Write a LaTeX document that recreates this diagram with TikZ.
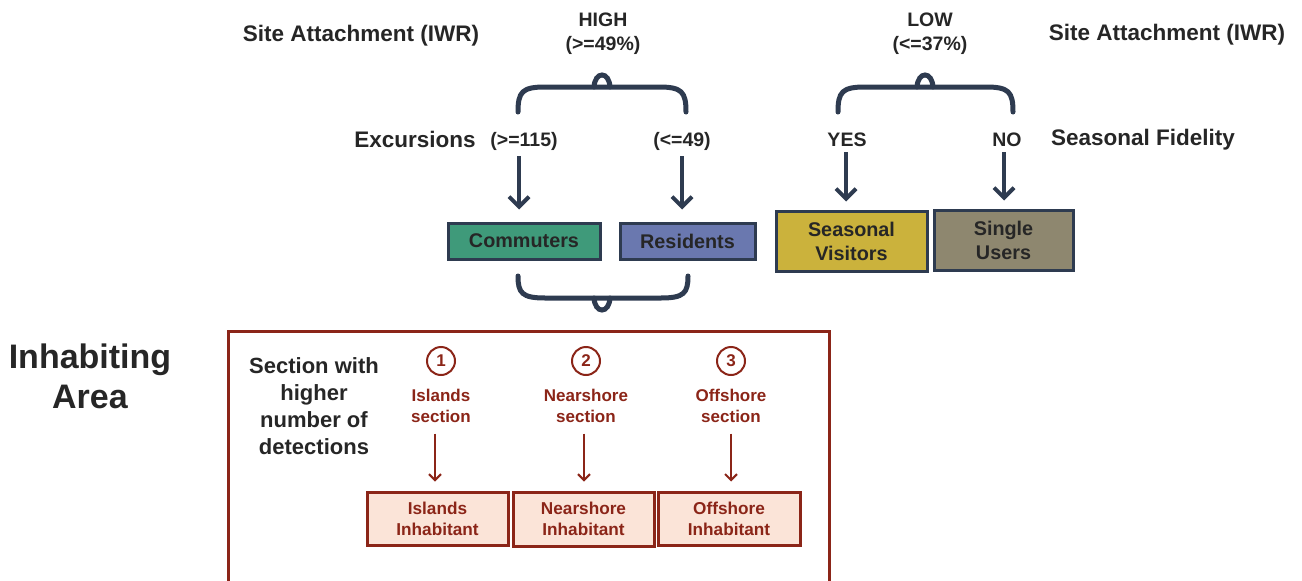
\documentclass[tikz,border=0pt]{standalone}
\usepackage{fontspec}
\setmainfont{Liberation Sans}
\usetikzlibrary{arrows.meta}
\definecolor{slate}{HTML}{2E3B50}
\definecolor{txt}{HTML}{262626}
\definecolor{dred}{HTML}{8B2518}
\definecolor{pinkfill}{HTML}{FBE4D8}
\definecolor{comm}{HTML}{3F9A7A}
\definecolor{resi}{HTML}{6A78AF}
\definecolor{seas}{HTML}{CBB23C}
\definecolor{sing}{HTML}{8E876F}
\tikzset{
  hd/.style={font=\bfseries\fontsize{22.5}{27}\selectfont, text=txt, align=center, inner sep=0pt},
  sm/.style={font=\bfseries\fontsize{19.5}{25}\selectfont, text=txt, align=center, inner sep=0pt},
  catbox/.style={draw=slate, line width=3pt, font=\bfseries\fontsize{19.8}{24}\selectfont, text=txt, align=center, inner sep=0pt},
  arr/.style={draw=slate, line width=4pt, -{Straight Barb[length=10pt,width=20pt]}},
  brace/.style={draw=slate, line width=5pt, line cap=round},
  redlbl/.style={font=\bfseries\fontsize{17}{20.5}\selectfont, text=dred, align=center, inner sep=0pt},
  num/.style={circle, draw=dred, line width=2pt, minimum size=28pt, inner sep=0pt, font=\bfseries\fontsize{17}{20}\selectfont, text=dred},
  inhab/.style={draw=dred, line width=3pt, fill=pinkfill, font=\bfseries\fontsize{17.2}{21}\selectfont, text=dred, align=center, inner sep=0pt},
  rarr/.style={draw=dred, line width=2pt, -{Straight Barb[length=6pt,width=12pt]}},
}
\begin{document}
\begin{tikzpicture}[x=1pt,y=-1pt]
\useasboundingbox (0,0) rectangle (1302,581);
\clip (0,0) rectangle (1302,581);
% top labels
\node[hd] (sa1) at (361,36) {Site Attachment (IWR)};
\node[sm] (high) at (603,20) {HIGH};
\node[sm] (highv) at (603,45) {(>=49\%)};
\node[sm] (low) at (930,20) {LOW};
\node[sm] (lowv) at (930,45) {(<=37\%)};
\node[hd] (sa2) at (1167,35) {Site Attachment (IWR)};
\node[hd] (exc) at (415,139) {Excursions};
\node[sm] (e1) at (524,141) {(>=115)};
\node[sm] (e2) at (682,141) {(<=49)};
\node[sm] (yes) at (847,140) {YES};
\node[sm] (no) at (1007,140) {NO};
\node[hd] (sf) at (1143,140) {Seasonal Fidelity};
% braces
\draw[brace] (518,112) .. controls (518,92) and (522,87) .. (545,87) -- (659,87) .. controls (682,87) and (686,92) .. (686,112);
\draw[brace] (594,87) .. controls (595,71) and (609,71) .. (610,87);
\draw[brace] (838,112) .. controls (838,92) and (842,87) .. (865,87) -- (986,87) .. controls (1009,87) and (1013,92) .. (1013,112);
\draw[brace] (917,87) .. controls (918,71) and (932,71) .. (933,87);
\draw[brace] (518,276) .. controls (518,293) and (522,298) .. (545,298) -- (661,298) .. controls (684,298) and (688,293) .. (688,276);
\draw[brace] (594,298) .. controls (595,314) and (609,314) .. (610,298);
% boxes
\node[catbox, fill=comm, minimum width=152pt, minimum height=36pt] (commu) at (524,241) {Commuters};
\node[catbox, fill=resi, minimum width=135pt, minimum height=36pt] (resid) at (687.5,241) {Residents};
\node[catbox, fill=seas, minimum width=151pt, minimum height=60pt] (seasv) at (851.5,241) {Seasonal\\Visitors};
\node[catbox, fill=sing, minimum width=139pt, minimum height=60pt] (singu) at (1003.5,240) {Single\\Users};
% arrows
\draw[arr, shorten <=6pt, shorten >=12pt] (e1.south -| 519,0) -- (commu.north -| 519,0);
\draw[arr, shorten <=6pt, shorten >=12pt] (e2.south) -- (e2.south |- resid.north);
\draw[arr, shorten <=5pt, shorten >=8pt] (yes.south -| 846,0) -- (seasv.north -| 846,0);
\draw[arr, shorten <=5pt, shorten >=8pt] (no.south -| 1004,0) -- (singu.north -| 1004,0);
% inhabiting area
\node[font=\bfseries\fontsize{34}{40}\selectfont, text=txt, align=center, inner sep=0pt] (ia) at (90,376) {Inhabiting\\Area};
\draw[draw=dred, line width=3pt] (228,331) rectangle (829,620);
\node[hd, font=\bfseries\fontsize{22}{27}\selectfont] (swh) at (314,406) {Section with\\higher\\number of\\detections};
\node[num] (n1) at (441,361) {1};
\node[num] (n2) at (586,361) {2};
\node[num] (n3) at (731,361) {3};
\node[redlbl] (s1) at (441,406) {Islands\\section};
\node[redlbl] (s2) at (586,406) {Nearshore\\section};
\node[redlbl] (s3) at (731,406) {Offshore\\section};
\node[inhab, minimum width=141pt, minimum height=53pt] (i1) at (437.5,518.5) {Islands\\Inhabitant};
\node[inhab, minimum width=141pt, minimum height=54pt] (i2) at (583.5,519) {Nearshore\\Inhabitant};
\node[inhab, minimum width=142pt, minimum height=53pt] (i3) at (729,518.5) {Offshore\\Inhabitant};
\draw[rarr, shorten <=11pt, shorten >=9pt] (s1.south -| 435,0) -- (i1.north -| 435,0);
\draw[rarr, shorten <=11pt, shorten >=9pt] (s2.south -| 584,0) -- (i2.north -| 584,0);
\draw[rarr, shorten <=11pt, shorten >=9pt] (s3.south) -- (s3.south |- i3.north);
\end{tikzpicture}
\end{document}
